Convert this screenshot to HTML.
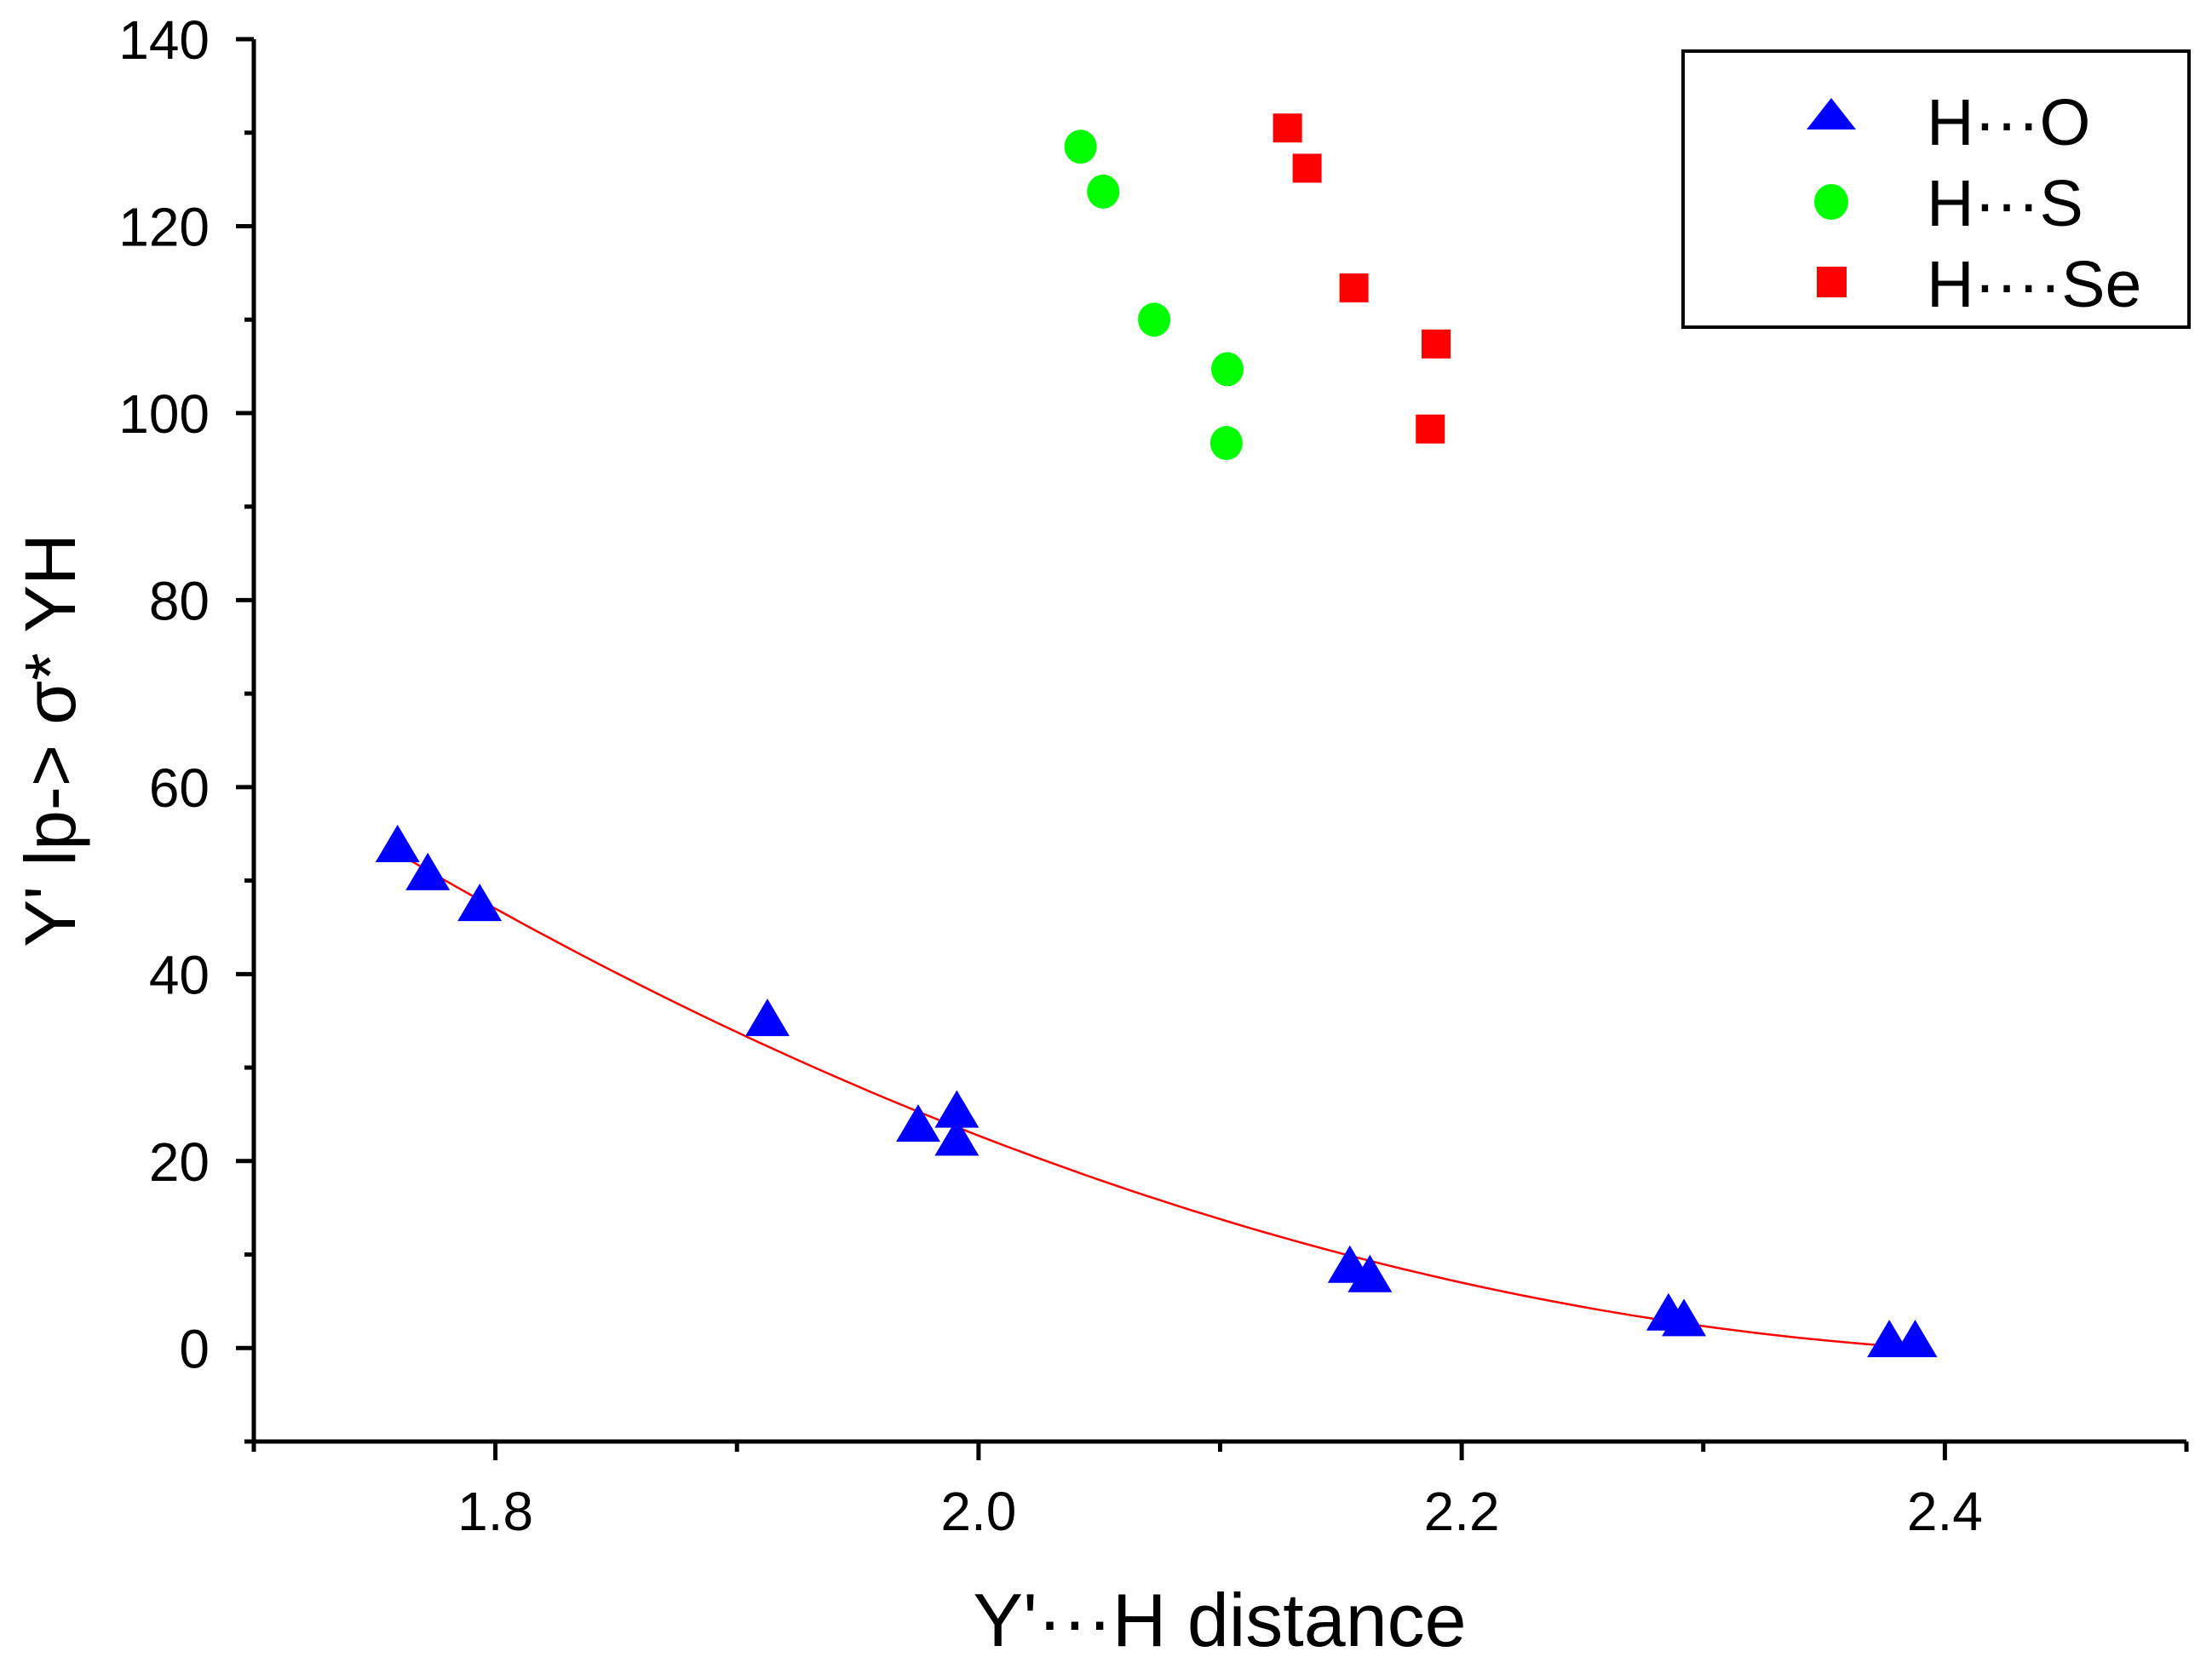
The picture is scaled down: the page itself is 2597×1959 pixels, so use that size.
<!DOCTYPE html>
<html><head><meta charset="utf-8"><style>
html,body{margin:0;padding:0;background:#fff;}
svg{display:block;font-family:"Liberation Sans",Arial,sans-serif;}
</style></head><body>
<svg id="chart" width="2597" height="1959" viewBox="0 0 2597 1959" xmlns="http://www.w3.org/2000/svg">
<rect width="2597" height="1959" fill="#fff"/>
<g id="axes"></g>
<g id="fit"></g>
<g id="marks"></g>
<text x="1432" y="1932" font-size="88" text-anchor="middle">Y'···H distance</text>
<text transform="translate(88,869) rotate(-90)" font-size="84" text-anchor="middle">Y' lp-&gt; σ* YH</text>
<g>
<rect x="1976" y="60" width="594" height="324" fill="#fff" stroke="#000" stroke-width="4"/>
<polygon points="2150,115 2121,152 2179,152" fill="#0000ff"/>
<text x="2262" y="170" font-size="77">H···O</text>
<ellipse cx="2150" cy="237" rx="20" ry="21" fill="#00ff00"/>
<text x="2262" y="265" font-size="77">H···S</text>
<rect x="2133" y="313" width="35" height="36" fill="#ff0000"/>
<text x="2262" y="360" font-size="77">H····Se</text>
</g>
</svg>
<script>
const hoX = [1.7595,1.772,1.7935,1.9126,1.975,1.991,1.991,2.1537,2.162,2.2856,2.292,2.377,2.3877];
const hoY = [53.7,50.7,47.4,35.1,23.8,25.3,22.3,8.7,7.7,3.6,3.0,0.75,0.75];
const hsX = [2.0422,2.0516,2.0727,2.103,2.1026];
const hsY = [128.5,123.7,110,104.7,96.8];
const hseX = [2.1279,2.136,2.1554,2.1894,2.187];
const hseY = [130.5,126.2,113.4,107.4,98.3];
const fitCoef = [47,-100,107];
const fitRange = [1.76,2.39];
const xTicks = [1.8,2.0,2.2,2.4];
const xTickLabels = ["1.8","2.0","2.2","2.4"];
const yTicks = [0,20,40,60,80,100,120,140];
const yTickLabels = ["0","20","40","60","80","100","120","140"];

const NS = "http://www.w3.org/2000/svg";
const L=298,R=2567,T=46,B=1692;
const xMin=1.7,xMax=2.5,yMin=-10,yMax=140;
function sx(v){return L+(v-xMin)/(xMax-xMin)*(R-L);}
function sy(v){return B-(v-yMin)/(yMax-yMin)*(B-T);}
function mk(tag,attrs,parent){const e=document.createElementNS(NS,tag);for(const k in attrs)e.setAttribute(k,attrs[k]);parent.appendChild(e);return e;}
const axes=document.getElementById('axes');
let e;
e=mk('line',{x1:L,y1:T,x2:L,y2:B+2,stroke:'#000','stroke-width':5},axes);


e=mk('line',{x1:L-8,y1:B,x2:R,y2:B,stroke:'#000','stroke-width':5},axes);


for(let v=yMin;v<=yMax+0.001;v+=10){
  const major=yTicks.includes(Math.round(v));
  e=mk('line',{x1:L-(major?21:11),y1:sy(v),x2:L,y2:sy(v),stroke:'#000','stroke-width':5},axes);
  
  
}
yTicks.forEach((v,i)=>{
  const t=mk('text',{x:L-52,y:sy(v)+23,'font-size':64,'text-anchor':'end'},axes);
  t.textContent=yTickLabels[i];
  
  
});
for(let k=0;k<=8;k++){
  const v=xMin+k*0.1;
  const major=xTicks.some(t=>Math.abs(t-v)<1e-6);
  e=mk('line',{x1:sx(v),y1:B,x2:sx(v),y2:B+(major?22:12),stroke:'#000','stroke-width':5},axes);
  
  
}
xTicks.forEach((v,i)=>{
  const t=mk('text',{x:sx(v),y:B+104,'font-size':64,'text-anchor':'middle'},axes);
  t.textContent=xTickLabels[i];
  
  
});
let d='';
for(let i=0;i<=100;i++){
  const x=fitRange[0]+(fitRange[1]-fitRange[0])*i/100;
  const y=fitCoef[0]+fitCoef[1]*(x-1.8)+fitCoef[2]*(x-1.8)*(x-2.2);
  d+=(i?'L':'M')+sx(x).toFixed(1)+','+sy(y).toFixed(1);
}
e=mk('path',{d:d,fill:'none',stroke:'#ff0000','stroke-width':2.5},document.getElementById('fit'));


const marks=document.getElementById('marks');
hoX.forEach((x,i)=>{
  const cx=sx(x),cy=sy(hoY[i]);
  const p=mk('polygon',{points:`${cx},${cy-25} ${cx-26},${cy+19} ${cx+26},${cy+19}`,fill:'#0000ff'},marks);
  
  
});
hsX.forEach((x,i)=>{
  const c=mk('ellipse',{cx:sx(x),cy:sy(hsY[i]),rx:19,ry:20,fill:'#00ff00'},marks);
  
  
});
hseX.forEach((x,i)=>{
  const r=mk('rect',{x:sx(x)-17,y:sy(hseY[i])-17,width:34,height:34,fill:'#ff0000'},marks);
  
  
});
</script>
</body></html>
